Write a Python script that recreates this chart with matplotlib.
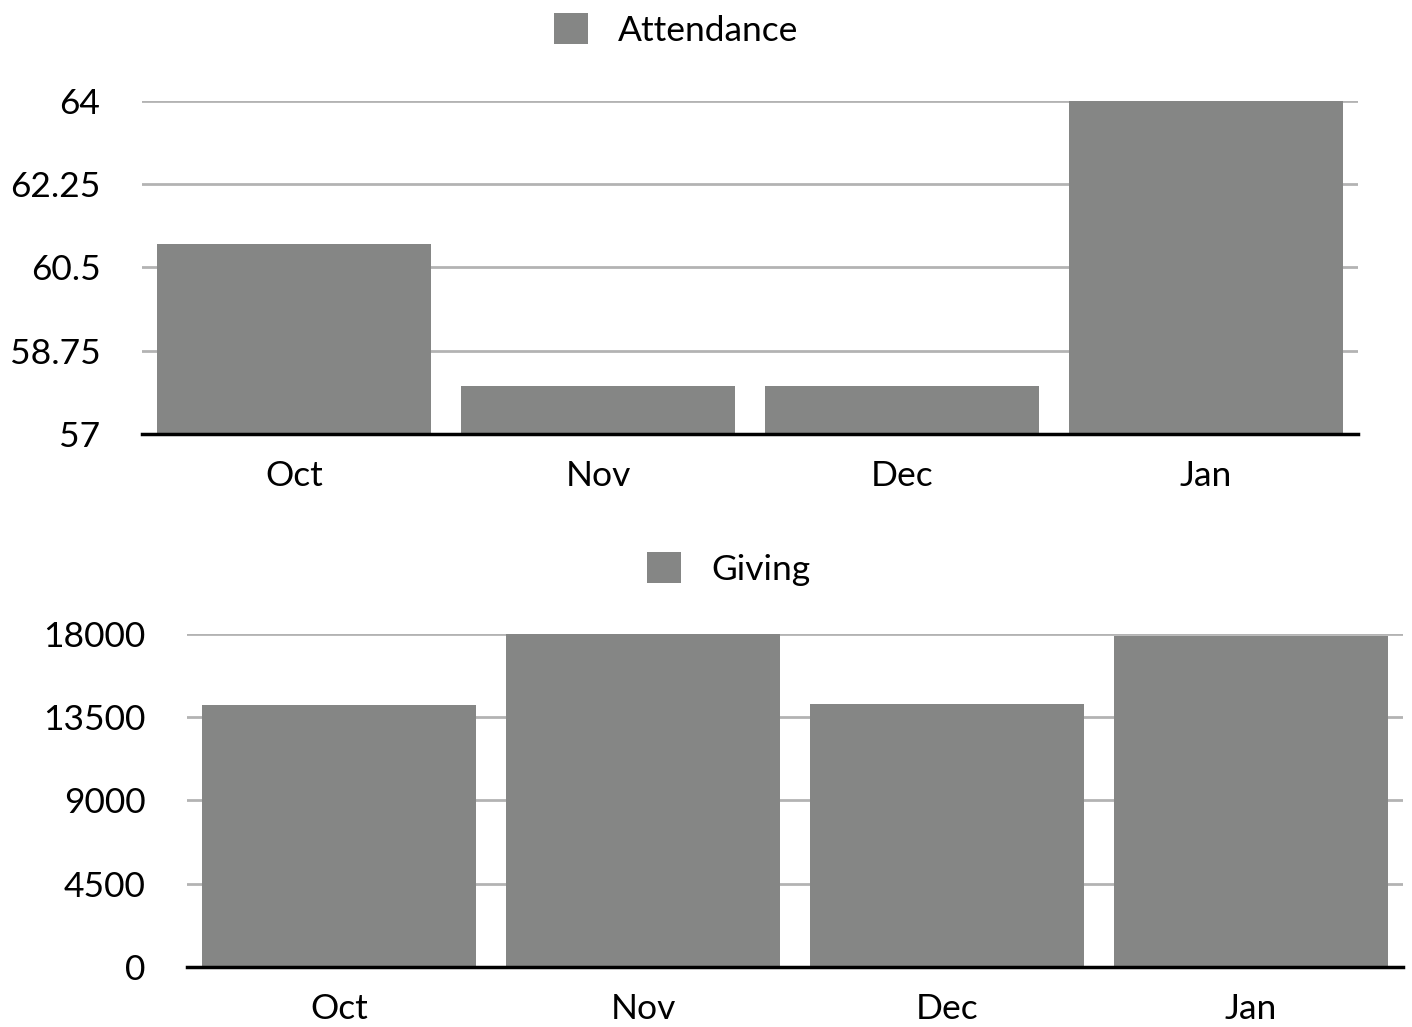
import numpy as np
import matplotlib.pyplot as plt
from matplotlib.ticker import FixedLocator

months = ['Oct', 'Nov', 'Dec', 'Jan']
attendance = [61, 58, 58, 64]
giving = [14165, 18000, 14220, 17870]

attendance_ticks = [57, 58.75, 60.5, 62.25, 64]
attendance_labels = ['57', '58.75', '60.5', '62.25', '64']
giving_ticks = [0, 4500, 9000, 13500, 18000]
giving_labels = ['0', '4500', '9000', '13500', '18000']

BAR = '#858685'
GRID = '#b3b3b3'
plt.rcParams['font.family'] = ['Lato', 'DejaVu Sans']


def bar_panel(fig, rect, values, ticks, labels, name, legend_x, legend_y):
    ax = fig.add_axes(rect)
    x = np.arange(len(months))
    ax.bar(x, values, width=0.902, color=BAR, zorder=2, label=name)
    ax.set_xlim(-0.5, len(months) - 0.5)
    ax.set_ylim(ticks[0], ticks[-1])
    ax.yaxis.set_major_locator(FixedLocator(ticks))
    ax.set_yticklabels(labels)
    ax.set_xticks(x)
    ax.set_xticklabels(months)
    ax.grid(axis='y', color=GRID, linewidth=2, zorder=1)
    for s in ['top', 'right', 'left']:
        ax.spines[s].set_visible(False)
    ax.spines['bottom'].set_linewidth(2.5)
    ax.spines['bottom'].set_color('black')
    ax.spines['bottom'].set_zorder(3)
    ax.tick_params(axis='y', length=0, pad=30, labelsize=25.5)
    ax.tick_params(axis='x', length=0, pad=19, labelsize=25.5)
    ax.legend(loc='center', bbox_to_anchor=(legend_x, legend_y),
              bbox_transform=fig.transFigure, frameon=False, fontsize=25.5,
              handlelength=0.95, handleheight=0.95, handletextpad=0.85)
    return ax


fig = plt.figure(figsize=(14.12, 10.27), dpi=100)
bar_panel(fig, [0.1006, 0.5774, 0.8612, 0.3243], attendance,
          attendance_ticks, attendance_labels, 'Attendance', 0.479, 0.971)
bar_panel(fig, [0.1324, 0.0584, 0.8612, 0.3243], giving,
          giving_ticks, giving_labels, 'Giving', 0.516, 0.446)

fig.savefig('out.png', dpi=100)
